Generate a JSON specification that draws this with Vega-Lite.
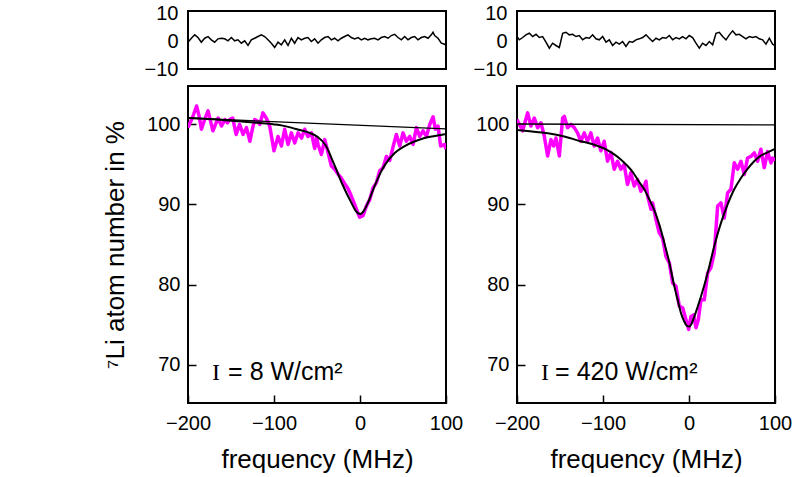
{
  "$schema": "https://vega.github.io/schema/vega-lite/v6.json",
  "autosize": {"type": "pad"},
  "padding": {"left": 101, "top": 2, "right": 5, "bottom": 5},
  "background": "white",
  "spacing": 8,
  "datasets": {
    "resL": [
      {"f": -200, "r": -0.39}, {"f": -196.1, "r": 1.04}, {"f": -192.2, "r": 2.25}, {"f": -188.4, "r": 1.29}, {"f": -184.5, "r": -0.39},
      {"f": -180.6, "r": 1.04}, {"f": -176.7, "r": 1.64}, {"f": -172.9, "r": 0.46}, {"f": -169.0, "r": -0.39}, {"f": -165.1, "r": 0.82},
      {"f": -161.2, "r": 1.04}, {"f": -157.4, "r": 0.82}, {"f": -153.5, "r": 0.1}, {"f": -149.6, "r": 1.29}, {"f": -145.7, "r": 0.1},
      {"f": -141.9, "r": 0.46}, {"f": -138.0, "r": -0.75}, {"f": -134.1, "r": 0.1}, {"f": -130.2, "r": -1.57}, {"f": -126.4, "r": 0.46},
      {"f": -122.5, "r": 1.04}, {"f": -118.6, "r": 1.64}, {"f": -114.7, "r": 2.25}, {"f": -110.9, "r": 1.64}, {"f": -107.0, "r": 0.46},
      {"f": -103.1, "r": -0.75}, {"f": -99.2, "r": -2.29}, {"f": -95.3, "r": -0.39}, {"f": -91.5, "r": -1.32}, {"f": -87.6, "r": 0.46},
      {"f": -83.7, "r": -1.57}, {"f": -79.8, "r": 1.04}, {"f": -76.0, "r": -0.75}, {"f": -72.1, "r": 1.29}, {"f": -68.2, "r": 0.46},
      {"f": -64.3, "r": 1.04}, {"f": -60.5, "r": 1.29}, {"f": -56.6, "r": -0.15}, {"f": -52.7, "r": 0.82}, {"f": -48.8, "r": -0.75},
      {"f": -45.0, "r": 0.46}, {"f": -41.1, "r": 1.29}, {"f": -37.2, "r": 1.64}, {"f": -33.3, "r": 0.46}, {"f": -29.5, "r": 1.04},
      {"f": -25.6, "r": 0.1}, {"f": -21.7, "r": 1.04}, {"f": -17.8, "r": 1.64}, {"f": -14.0, "r": 2.25}, {"f": -10.1, "r": 1.29},
      {"f": -6.2, "r": 0.82}, {"f": -2.3, "r": 1.29}, {"f": 1.6, "r": 0.46}, {"f": 5.4, "r": 1.04}, {"f": 9.3, "r": 0.46},
      {"f": 13.2, "r": 0.82}, {"f": 17.1, "r": 1.04}, {"f": 20.9, "r": 0.46}, {"f": 24.8, "r": 1.29}, {"f": 28.7, "r": 1.64},
      {"f": 32.6, "r": 1.04}, {"f": 36.4, "r": 2.0}, {"f": 40.3, "r": 2.46}, {"f": 44.2, "r": 1.29}, {"f": 48.1, "r": 0.46},
      {"f": 51.9, "r": 1.64}, {"f": 55.8, "r": 0.46}, {"f": 59.7, "r": 1.29}, {"f": 63.6, "r": 1.64}, {"f": 67.4, "r": 0.46},
      {"f": 71.3, "r": 1.29}, {"f": 75.2, "r": 1.64}, {"f": 79.1, "r": 1.04}, {"f": 82.9, "r": 2.25}, {"f": 84.9, "r": 3.18},
      {"f": 86.8, "r": 2.0}, {"f": 90.7, "r": 1.04}, {"f": 94.6, "r": -0.75}, {"f": 98.4, "r": -1.1}, {"f": 100, "r": -1.57}
    ],
    "resR": [
      {"f": -200, "r": 1.64}, {"f": -197.3, "r": 0.46}, {"f": -193.4, "r": 1.29}, {"f": -189.6, "r": 2.25}, {"f": -185.7, "r": 2.82},
      {"f": -181.8, "r": 1.64}, {"f": -177.9, "r": 2.46}, {"f": -174.1, "r": 1.29}, {"f": -170.2, "r": 1.64}, {"f": -166.3, "r": -0.39},
      {"f": -162.4, "r": -2.54}, {"f": -158.6, "r": -0.75}, {"f": -154.7, "r": -1.57}, {"f": -150.8, "r": -2.29}, {"f": -146.9, "r": 2.82},
      {"f": -143.1, "r": 3.18}, {"f": -139.2, "r": 2.25}, {"f": -135.3, "r": 2.46}, {"f": -131.4, "r": 1.64}, {"f": -127.6, "r": 2.0},
      {"f": -123.7, "r": 0.46}, {"f": -119.8, "r": 1.29}, {"f": -115.9, "r": 1.04}, {"f": -112.1, "r": 2.25}, {"f": -108.2, "r": 0.82},
      {"f": -104.3, "r": 0.46}, {"f": -100.4, "r": 1.64}, {"f": -96.5, "r": -0.39}, {"f": -92.7, "r": 0.46}, {"f": -88.8, "r": -1.57},
      {"f": -84.9, "r": -0.39}, {"f": -81.0, "r": -1.1}, {"f": -77.2, "r": -0.15}, {"f": -73.3, "r": -1.93}, {"f": -69.4, "r": -0.15},
      {"f": -65.5, "r": -0.39}, {"f": -61.7, "r": 0.46}, {"f": -57.8, "r": 0.82}, {"f": -53.9, "r": 1.29}, {"f": -50.0, "r": 2.25},
      {"f": -46.2, "r": 1.04}, {"f": -42.3, "r": -0.15}, {"f": -38.4, "r": 1.04}, {"f": -34.5, "r": 0.46}, {"f": -30.7, "r": 1.29},
      {"f": -26.8, "r": 1.04}, {"f": -22.9, "r": 2.0}, {"f": -19.0, "r": 0.46}, {"f": -15.2, "r": 1.29}, {"f": -11.3, "r": 0.82},
      {"f": -7.4, "r": 1.64}, {"f": -3.5, "r": 0.82}, {"f": 0.3, "r": 2.0}, {"f": 4.2, "r": 1.29}, {"f": 8.1, "r": -0.75},
      {"f": 12.0, "r": -2.54}, {"f": 15.8, "r": -0.75}, {"f": 19.7, "r": -1.57}, {"f": 23.6, "r": -0.15}, {"f": 27.5, "r": -1.32},
      {"f": 31.4, "r": 2.82}, {"f": 35.2, "r": 3.18}, {"f": 39.1, "r": 1.64}, {"f": 43.0, "r": 0.46}, {"f": 46.9, "r": 2.25},
      {"f": 50.7, "r": 3.67}, {"f": 54.6, "r": 2.25}, {"f": 58.5, "r": 2.46}, {"f": 62.4, "r": 1.64}, {"f": 66.2, "r": 0.82},
      {"f": 70.1, "r": 1.64}, {"f": 74.0, "r": 1.29}, {"f": 77.9, "r": 1.64}, {"f": 81.7, "r": 0.82}, {"f": 85.6, "r": 0.46},
      {"f": 89.5, "r": -1.1}, {"f": 93.4, "r": 1.04}, {"f": 97.2, "r": -1.1}, {"f": 100, "r": -1.57}
    ],
    "dataL": [
      {"f": -200, "v": 99.6}, {"f": -195, "v": 100.8}, {"f": -190, "v": 102.3}, {"f": -187, "v": 101.0}, {"f": -184.4, "v": 99.4},
      {"f": -180, "v": 100.8}, {"f": -176.7, "v": 101.7}, {"f": -174, "v": 100.5}, {"f": -171, "v": 99.2}, {"f": -168, "v": 100.0},
      {"f": -165, "v": 100.8}, {"f": -161, "v": 99.8}, {"f": -157, "v": 100.6}, {"f": -154, "v": 100.2}, {"f": -151.5, "v": 100.6},
      {"f": -148, "v": 100.8}, {"f": -144, "v": 98.75}, {"f": -140, "v": 100.0}, {"f": -136, "v": 98.75}, {"f": -132, "v": 99.6},
      {"f": -128, "v": 97.9}, {"f": -125, "v": 99.5}, {"f": -122.4, "v": 100.6}, {"f": -119, "v": 100.4}, {"f": -116.6, "v": 100.0},
      {"f": -112.8, "v": 101.45}, {"f": -109, "v": 100.8}, {"f": -105, "v": 99.8}, {"f": -100, "v": 96.7}, {"f": -95.3, "v": 98.5},
      {"f": -91.4, "v": 97.3}, {"f": -87.6, "v": 99.4}, {"f": -83.7, "v": 97.5}, {"f": -79.8, "v": 98.95}, {"f": -75.9, "v": 97.7},
      {"f": -72, "v": 98.95}, {"f": -68, "v": 98.3}, {"f": -64.3, "v": 99.4}, {"f": -60.5, "v": 98.5}, {"f": -56.5, "v": 98.95},
      {"f": -52.7, "v": 97.0}, {"f": -50.5, "v": 98.4}, {"f": -48.8, "v": 97.5}, {"f": -44.9, "v": 96.25}, {"f": -41.0, "v": 98.1},
      {"f": -37.2, "v": 96.5}, {"f": -33.3, "v": 94.8}, {"f": -29.4, "v": 94.4}, {"f": -25.6, "v": 93.8}, {"f": -21.7, "v": 93.3},
      {"f": -17.8, "v": 92.6}, {"f": -14.0, "v": 92.0}, {"f": -10.1, "v": 91.05}, {"f": -6.2, "v": 90.0}, {"f": -2.3, "v": 88.9},
      {"f": -0.4, "v": 88.4}, {"f": 3.5, "v": 88.6}, {"f": 7.4, "v": 89.8}, {"f": 11.3, "v": 90.6}, {"f": 15.2, "v": 92.1},
      {"f": 19.0, "v": 92.7}, {"f": 22.9, "v": 94.2}, {"f": 26.8, "v": 94.6}, {"f": 30.7, "v": 96.0}, {"f": 34.6, "v": 95.5},
      {"f": 38.4, "v": 97.2}, {"f": 42.3, "v": 98.75}, {"f": 46.2, "v": 97.3}, {"f": 50.0, "v": 98.95}, {"f": 53.9, "v": 97.9},
      {"f": 57.8, "v": 98.5}, {"f": 61.7, "v": 97.5}, {"f": 65.6, "v": 99.6}, {"f": 69.4, "v": 98.5}, {"f": 73.3, "v": 99.2},
      {"f": 77.2, "v": 98.5}, {"f": 81.1, "v": 100.0}, {"f": 85.0, "v": 100.95}, {"f": 87.6, "v": 99.4}, {"f": 90.7, "v": 99.8},
      {"f": 93.8, "v": 97.3}, {"f": 98.5, "v": 97.5}, {"f": 100, "v": 96.9}
    ],
    "fitL": [
      {"f": -200, "v": 100.8}, {"f": -180, "v": 100.7}, {"f": -160, "v": 100.55}, {"f": -140, "v": 100.4}, {"f": -120, "v": 100.2},
      {"f": -100, "v": 100.0}, {"f": -90, "v": 99.85}, {"f": -80, "v": 99.6}, {"f": -70, "v": 99.3}, {"f": -60, "v": 99.0},
      {"f": -50, "v": 98.5}, {"f": -40, "v": 97.4}, {"f": -30, "v": 95.0}, {"f": -20, "v": 92.4}, {"f": -10, "v": 90.2},
      {"f": -5, "v": 89.2}, {"f": 0, "v": 88.8}, {"f": 5, "v": 89.3}, {"f": 10, "v": 90.4}, {"f": 17, "v": 92.3},
      {"f": 25, "v": 94.2}, {"f": 30, "v": 95.1}, {"f": 40, "v": 96.4}, {"f": 52, "v": 97.3}, {"f": 64, "v": 97.9},
      {"f": 75, "v": 98.3}, {"f": 87, "v": 98.55}, {"f": 100, "v": 98.8}
    ],
    "baseL": [{"f": -200, "v": 100.8}, {"f": 100, "v": 99.45}],
    "dataR": [
      {"f": -200, "v": 100.6}, {"f": -193.5, "v": 99.2}, {"f": -187.6, "v": 101.45}, {"f": -183.8, "v": 99.8}, {"f": -179.9, "v": 100.8},
      {"f": -176, "v": 99.6}, {"f": -172.1, "v": 100.2}, {"f": -168.3, "v": 98.55}, {"f": -164.4, "v": 96.05}, {"f": -160.5, "v": 98.1},
      {"f": -157.4, "v": 97.3}, {"f": -154.7, "v": 98.3}, {"f": -150.8, "v": 96.05}, {"f": -146.9, "v": 100.8}, {"f": -145, "v": 101.0},
      {"f": -141.2, "v": 99.6}, {"f": -137.3, "v": 100.0}, {"f": -133.4, "v": 99.6}, {"f": -129.6, "v": 98.95}, {"f": -125.7, "v": 97.9},
      {"f": -121.8, "v": 98.95}, {"f": -118, "v": 97.9}, {"f": -114.1, "v": 98.95}, {"f": -110.2, "v": 97.3}, {"f": -106.3, "v": 98.3},
      {"f": -102.5, "v": 96.7}, {"f": -98.6, "v": 97.9}, {"f": -94.7, "v": 95.4}, {"f": -90.8, "v": 96.5}, {"f": -87, "v": 94.4},
      {"f": -83.1, "v": 95.4}, {"f": -79.2, "v": 94.4}, {"f": -75.4, "v": 95.0}, {"f": -71.5, "v": 92.5}, {"f": -67.6, "v": 93.95},
      {"f": -63.7, "v": 92.3}, {"f": -59.9, "v": 93.1}, {"f": -56, "v": 91.65}, {"f": -52.1, "v": 92.3}, {"f": -50, "v": 92.9},
      {"f": -48.1, "v": 91.05}, {"f": -44.2, "v": 89.4}, {"f": -42.3, "v": 90.2}, {"f": -38.4, "v": 88.1}, {"f": -34.6, "v": 86.45},
      {"f": -30.7, "v": 85.8}, {"f": -26.8, "v": 83.5}, {"f": -22.9, "v": 82.7}, {"f": -19, "v": 80.2}, {"f": -15.2, "v": 79.8},
      {"f": -11.3, "v": 77.3}, {"f": -7.4, "v": 77.1}, {"f": -3.5, "v": 75.6}, {"f": -0.4, "v": 74.4}, {"f": 2.3, "v": 76.0},
      {"f": 5.4, "v": 76.2}, {"f": 8.1, "v": 74.6}, {"f": 10.8, "v": 75.6}, {"f": 13.9, "v": 78.1}, {"f": 17.8, "v": 78.1},
      {"f": 21.7, "v": 81.45}, {"f": 25.5, "v": 82.1}, {"f": 29.4, "v": 83.95}, {"f": 33.3, "v": 89.8}, {"f": 37.2, "v": 90.2},
      {"f": 41, "v": 88.3}, {"f": 44.9, "v": 91.45}, {"f": 48.8, "v": 91.9}, {"f": 52.6, "v": 95.2}, {"f": 56.5, "v": 94.4},
      {"f": 60.4, "v": 95.4}, {"f": 64.3, "v": 93.75}, {"f": 68.1, "v": 95.8}, {"f": 72, "v": 96.0}, {"f": 75.9, "v": 96.45},
      {"f": 79.8, "v": 95.4}, {"f": 83.6, "v": 96.9}, {"f": 87.5, "v": 94.6}, {"f": 91.4, "v": 96.6}, {"f": 95.3, "v": 95.2},
      {"f": 97.2, "v": 95.8}, {"f": 100, "v": 95.5}
    ],
    "fitR": [
      {"f": -200, "v": 99.3}, {"f": -185, "v": 99.15}, {"f": -164, "v": 98.9}, {"f": -145, "v": 98.5}, {"f": -126, "v": 97.9},
      {"f": -116, "v": 97.65}, {"f": -106, "v": 97.3}, {"f": -96, "v": 96.85}, {"f": -87, "v": 96.25}, {"f": -79, "v": 95.6},
      {"f": -71.4, "v": 94.8}, {"f": -65, "v": 94.0}, {"f": -59.8, "v": 93.1}, {"f": -52, "v": 91.9}, {"f": -46, "v": 90.6},
      {"f": -40.4, "v": 89.3}, {"f": -34, "v": 87.3}, {"f": -28.7, "v": 85.2}, {"f": -23, "v": 82.8}, {"f": -17.1, "v": 79.8},
      {"f": -13, "v": 78.0}, {"f": -9.4, "v": 76.45}, {"f": -6, "v": 75.5}, {"f": -2.6, "v": 74.85}, {"f": 0.3, "v": 74.75},
      {"f": 3, "v": 75.1}, {"f": 6.2, "v": 76.0}, {"f": 13.9, "v": 78.5}, {"f": 21.7, "v": 81.45}, {"f": 29.4, "v": 84.8},
      {"f": 37.2, "v": 87.7}, {"f": 44.9, "v": 90.0}, {"f": 52.6, "v": 91.9}, {"f": 60.4, "v": 93.3}, {"f": 68.1, "v": 94.45},
      {"f": 75.8, "v": 95.4}, {"f": 83.6, "v": 96.1}, {"f": 91.3, "v": 96.5}, {"f": 100, "v": 96.95}
    ],
    "baseR": [{"f": -200, "v": 100.05}, {"f": 100, "v": 99.95}],
    "annL": [{"f": -172, "v": 68.1, "a": "I", "b": "= 8 W/cm²"}],
    "annR": [{"f": -172, "v": 68.1, "a": "I", "b": "= 420 W/cm²"}]
  },
  "hconcat": [
    {
      "spacing": 17,
      "bounds": "flush",
      "vconcat": [
        {
          "width": 258, "height": 58,
          "data": {"name": "resL"},
          "mark": {"type": "line", "color": "black", "strokeWidth": 1.5, "clip": true},
          "encoding": {
            "x": {"field": "f", "type": "quantitative", "scale": {"domain": [-200, 100], "nice": false, "zero": false}, "axis": null},
            "y": {"field": "r", "type": "quantitative", "scale": {"domain": [-10, 10.8], "nice": false, "zero": false},
                  "axis": {"values": [-10, 0, 10], "title": null, "ticks": false, "labelPadding": 10}}
          }
        },
        {
          "width": 258, "height": 317,
          "layer": [
            {
              "data": {"name": "dataL"},
              "mark": {"type": "line", "color": "#ff00ff", "strokeWidth": 3.5, "strokeJoin": "round", "clip": true},
              "encoding": {
                "x": {"field": "f", "type": "quantitative", "scale": {"domain": [-200, 100], "nice": false, "zero": false},
                      "axis": {"values": [-200, -100, 0, 100], "title": "frequency (MHz)", "labelPadding": 18, "titlePadding": 13}},
                "y": {"field": "v", "type": "quantitative", "scale": {"domain": [65.2, 104.8], "nice": false, "zero": false},
                      "axis": {"values": [70, 80, 90, 100], "title": "⁷Li atom number in %", "labelPadding": 16, "titlePadding": 18}}
              }
            },
            {
              "data": {"name": "baseL"},
              "mark": {"type": "line", "color": "black", "strokeWidth": 1.3, "clip": true},
              "encoding": {"x": {"field": "f", "type": "quantitative"}, "y": {"field": "v", "type": "quantitative"}}
            },
            {
              "data": {"name": "fitL"},
              "mark": {"type": "line", "color": "black", "strokeWidth": 2, "interpolate": "monotone", "clip": true},
              "encoding": {"x": {"field": "f", "type": "quantitative"}, "y": {"field": "v", "type": "quantitative"}}
            },
            {
              "data": {"name": "annL"},
              "mark": {"type": "text", "font": "Liberation Serif", "fontSize": 24, "align": "left", "baseline": "alphabetic", "color": "black"},
              "encoding": {"x": {"field": "f", "type": "quantitative"}, "y": {"field": "v", "type": "quantitative"}, "text": {"field": "a"}}
            },
            {
              "data": {"name": "annL"},
              "mark": {"type": "text", "font": "Liberation Sans", "fontSize": 25, "align": "left", "baseline": "alphabetic", "color": "black", "dx": 16},
              "encoding": {"x": {"field": "f", "type": "quantitative"}, "y": {"field": "v", "type": "quantitative"}, "text": {"field": "b"}}
            }
          ]
        }
      ]
    },
    {
      "spacing": 17,
      "bounds": "flush",
      "vconcat": [
        {
          "width": 258, "height": 58,
          "data": {"name": "resR"},
          "mark": {"type": "line", "color": "black", "strokeWidth": 1.5, "clip": true},
          "encoding": {
            "x": {"field": "f", "type": "quantitative", "scale": {"domain": [-200, 100], "nice": false, "zero": false}, "axis": null},
            "y": {"field": "r", "type": "quantitative", "scale": {"domain": [-10, 10.8], "nice": false, "zero": false},
                  "axis": {"values": [-10, 0, 10], "title": null, "ticks": false, "labelPadding": 10}}
          }
        },
        {
          "width": 258, "height": 317,
          "layer": [
            {
              "data": {"name": "dataR"},
              "mark": {"type": "line", "color": "#ff00ff", "strokeWidth": 3.5, "strokeJoin": "round", "clip": true},
              "encoding": {
                "x": {"field": "f", "type": "quantitative", "scale": {"domain": [-200, 100], "nice": false, "zero": false},
                      "axis": {"values": [-200, -100, 0, 100], "title": "frequency (MHz)", "labelPadding": 18, "titlePadding": 13}},
                "y": {"field": "v", "type": "quantitative", "scale": {"domain": [65.2, 104.8], "nice": false, "zero": false},
                      "axis": {"values": [70, 80, 90, 100], "title": null, "labelPadding": 16}}
              }
            },
            {
              "data": {"name": "baseR"},
              "mark": {"type": "line", "color": "black", "strokeWidth": 1.3, "clip": true},
              "encoding": {"x": {"field": "f", "type": "quantitative"}, "y": {"field": "v", "type": "quantitative"}}
            },
            {
              "data": {"name": "fitR"},
              "mark": {"type": "line", "color": "black", "strokeWidth": 2, "interpolate": "monotone", "clip": true},
              "encoding": {"x": {"field": "f", "type": "quantitative"}, "y": {"field": "v", "type": "quantitative"}}
            },
            {
              "data": {"name": "annR"},
              "mark": {"type": "text", "font": "Liberation Serif", "fontSize": 24, "align": "left", "baseline": "alphabetic", "color": "black"},
              "encoding": {"x": {"field": "f", "type": "quantitative"}, "y": {"field": "v", "type": "quantitative"}, "text": {"field": "a"}}
            },
            {
              "data": {"name": "annR"},
              "mark": {"type": "text", "font": "Liberation Sans", "fontSize": 25, "align": "left", "baseline": "alphabetic", "color": "black", "dx": 14},
              "encoding": {"x": {"field": "f", "type": "quantitative"}, "y": {"field": "v", "type": "quantitative"}, "text": {"field": "b"}}
            }
          ]
        }
      ]
    }
  ],
  "config": {
    "view": {"stroke": "black", "strokeWidth": 2},
    "axis": {
      "grid": false, "domain": false,
      "labelFont": "Liberation Sans", "labelFontSize": 20, "labelColor": "black", "labelFlush": false, "labelOverlap": false,
      "tickColor": "black", "tickSize": -8, "tickWidth": 1.5,
      "titleFont": "Liberation Sans", "titleFontSize": 26, "titleFontWeight": "normal", "titleColor": "black"
    }
  }
}
